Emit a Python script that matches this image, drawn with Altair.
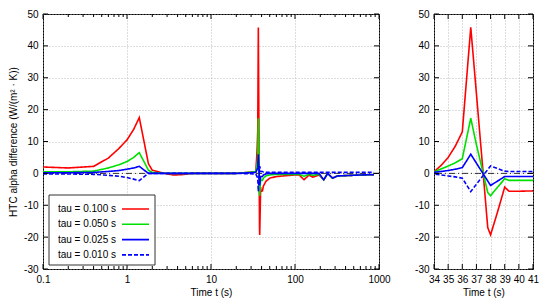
import altair as alt
import pandas as pd

# ---------------- data ----------------
times = [0.1, 0.2, 0.4, 0.6, 0.8, 1.0, 1.2, 1.4, 1.8, 2.0, 2.5, 3.0, 3.6, 4.5, 6, 10, 20,
         34, 34.5, 35, 35.5, 36, 36.6, 37.0, 37.8, 38.0, 38.5, 39.0, 39.3, 40, 41,
         42, 45, 50, 60, 80, 100, 112, 128, 147, 163, 193, 220, 245, 280, 320, 400, 600, 870]

tau_100 = [2.0, 1.7, 2.2, 4.8, 7.8, 10.5, 13.8, 17.5, 3.0, 1.0, 0.3, -0.2, -0.5, -0.4, 0, 0, 0,
           0.5, 2.5, 5.0, 8.5, 13.0, 45.8, 25.0, -17.0, -19.3, -12.0, -4.3, -5.6, -5.6, -5.5,
           -4.0, -2.5, -1.5, -1.0, -0.7, -0.5, -0.5, -2.0, -0.5, -1.2, -0.5, -2.0, 0.0, -1.5, -0.8, -0.7, -0.5, -0.4]

tau_050 = [0.5, 0.5, 0.7, 1.7, 2.7, 3.7, 5.0, 6.5, 1.0, 0.3, 0.1, 0, 0, 0, 0, 0, 0,
           0.5, 1.4, 2.3, 3.3, 4.6, 17.3, 9.0, -6.0, -7.0, -4.3, -1.7, -2.2, -2.2, -2.2,
           -1.5, -0.8, -0.5, -0.3, -0.3, -0.3, -0.3, -0.9, -0.3, -0.6, -0.3, -2.0, 0.0, -1.5, -0.8, -0.7, -0.5, -0.4]

tau_025 = [0.2, 0.2, 0.3, 0.6, 0.9, 1.3, 1.7, 2.2, 0, 0, 0, 0, 0, 0, 0, 0, 0,
           0.3, 0.6, 0.9, 1.3, 1.8, 6.0, 3.2, -2.4, -3.8, -2.4, -1.0, -1.0, -1.0, -1.0,
           -0.5, -0.2, 0, 0, 0, 0, 0, 0, 0, 0, 0, -2.0, 0.0, -1.5, -0.8, -0.7, -0.5, -0.4]

tau_010 = [-0.2, -0.2, -0.3, -0.6, -0.9, -1.3, -1.8, -2.3, 0, 0, 0, 0, 0, 0, 0, 0, 0,
           -0.2, -0.5, -0.8, -1.1, -1.5, -5.7, -3.4, 1.2, 2.3, 1.5, 0.7, 0.6, 0.6, 0.6,
           0.4, 0.3, 0.3, 0.3, 0.3, 0.3, 0.3, 0.3, 0.3, 0.3, 0.3, 0.3, 0.3, 0.3, 0.3, 0.3, 0.3, 0.3]

series_labels = ["tau = 0.100 s", "tau = 0.050 s", "tau = 0.025 s", "tau = 0.010 s"]
series_values = [tau_100, tau_050, tau_025, tau_010]
series_colors = ["#ff0000", "#00e000", "#0000ff", "#0000ff"]
series_dashes = [[1, 0], [1, 0], [1, 0], [4, 2]]

x_major_left = [0.1, 1, 10, 100, 1000]
x_minor_left = [k * 10 ** e for e in range(-1, 3) for k in range(2, 10)]
x_major_right = [34, 35, 36, 37, 38, 39, 40, 41]
y_major = [-30, -20, -10, 0, 10, 20, 30, 40, 50]

# ---------------- build ----------------
rows = []
for i, vals in enumerate(series_values):
    for t, v in zip(times, vals):
        rows.append({"t": t, "v": v, "s": i})
df = pd.DataFrame(rows)

FONT = "Liberation Sans"
FS = 10
W1, W2, H = 336, 99, 255

yscale = alt.Scale(domain=[-30, 50], nice=False, zero=False)
yaxis_left = alt.Axis(values=y_major, title="HTC alpha difference  (W/(m² · K))",
                      labelExpr="'' + datum.value", titlePadding=5, labelFlush=False)
yaxis_right = alt.Axis(values=y_major, title=None, labelExpr="'' + datum.value", labelFlush=False)

xscale_left = alt.Scale(type="log", domain=[0.1, 1000], nice=False)
xaxis_left = alt.Axis(values=x_major_left, title="Time t (s)", format="~g", titlePadding=3,
                      labelOverlap=False, labelFlush=False)
xscale_right = alt.Scale(domain=[34, 41], nice=False, zero=False)
xaxis_right = alt.Axis(values=x_major_right, title="Time t (s)", format="d", titlePadding=3,
                       labelOverlap=False, labelFlush=False)


def panel(xscale, xaxis, yaxis, W, xmajor, xminor, legend):
    X = lambda: alt.X("t:Q", scale=xscale, axis=xaxis)
    Y = lambda: alt.Y("v:Q", scale=yscale, axis=yaxis)
    layers = []
    # zero axis (dash-dot)
    layers.append(alt.Chart(pd.DataFrame({"v": [0]})).mark_rule(
        color="black", strokeWidth=0.8, strokeDash=[6, 3, 1, 3]).encode(y=Y()))
    # series
    for i in range(len(series_labels)):
        layers.append(alt.Chart(df).transform_filter(alt.datum.s == i).mark_line(
            color=series_colors[i], strokeWidth=1.6, strokeDash=series_dashes[i], clip=True
        ).encode(x=X(), y=Y(), order="t:Q"))
    # inward ticks
    xt = pd.DataFrame({"t": xmajor})
    layers.append(alt.Chart(xt).mark_rule(color="black").encode(x=X(), y=alt.value(H), y2=alt.value(H - 5)))
    layers.append(alt.Chart(xt).mark_rule(color="black").encode(x=X(), y=alt.value(0), y2=alt.value(5)))
    if xminor:
        xm = pd.DataFrame({"t": xminor})
        layers.append(alt.Chart(xm).mark_rule(color="black").encode(x=X(), y=alt.value(H), y2=alt.value(H - 3)))
        layers.append(alt.Chart(xm).mark_rule(color="black").encode(x=X(), y=alt.value(0), y2=alt.value(3)))
    yt = pd.DataFrame({"v": y_major})
    layers.append(alt.Chart(yt).mark_rule(color="black").encode(y=Y(), x=alt.value(0), x2=alt.value(5)))
    layers.append(alt.Chart(yt).mark_rule(color="black").encode(y=Y(), x=alt.value(W), x2=alt.value(W - 5)))
    if legend:
        one = pd.DataFrame({"a": [0]})
        layers.append(alt.Chart(one).mark_rect(fill="white", stroke="#333333", strokeWidth=1).encode(
            x=alt.value(6), x2=alt.value(112), y=alt.value(181), y2=alt.value(251)))
        for i, lab in enumerate(series_labels):
            yy = 195 + i * 15.3
            layers.append(alt.Chart(one).mark_text(
                text=lab, align="right", baseline="middle", font=FONT, fontSize=FS, color="black"
            ).encode(x=alt.value(73), y=alt.value(yy)))
            layers.append(alt.Chart(one).mark_rule(
                color=series_colors[i], strokeWidth=1.6, strokeDash=series_dashes[i]
            ).encode(x=alt.value(79), x2=alt.value(106), y=alt.value(yy)))
    return alt.layer(*layers).properties(width=W, height=H)


left = panel(xscale_left, xaxis_left, yaxis_left, W1, x_major_left, x_minor_left, True)
right = panel(xscale_right, xaxis_right, yaxis_right, W2, x_major_right, None, False)

chart = alt.hconcat(left, right, spacing=23).properties(
    padding={"left": 0, "top": 0, "right": 0, "bottom": 0}
).configure_view(stroke="black", strokeWidth=1).configure_axis(
    domain=False, ticks=False, grid=True, gridColor="#a8a8a8", gridDash=[1, 2], gridWidth=0.8,
    labelFont=FONT, labelFontSize=FS, labelColor="black", labelPadding=5,
    titleFont=FONT, titleFontSize=FS, titleColor="black", titleFontWeight="normal"
)

chart.save("out.html", embed_options={"renderer": "svg", "actions": False})
